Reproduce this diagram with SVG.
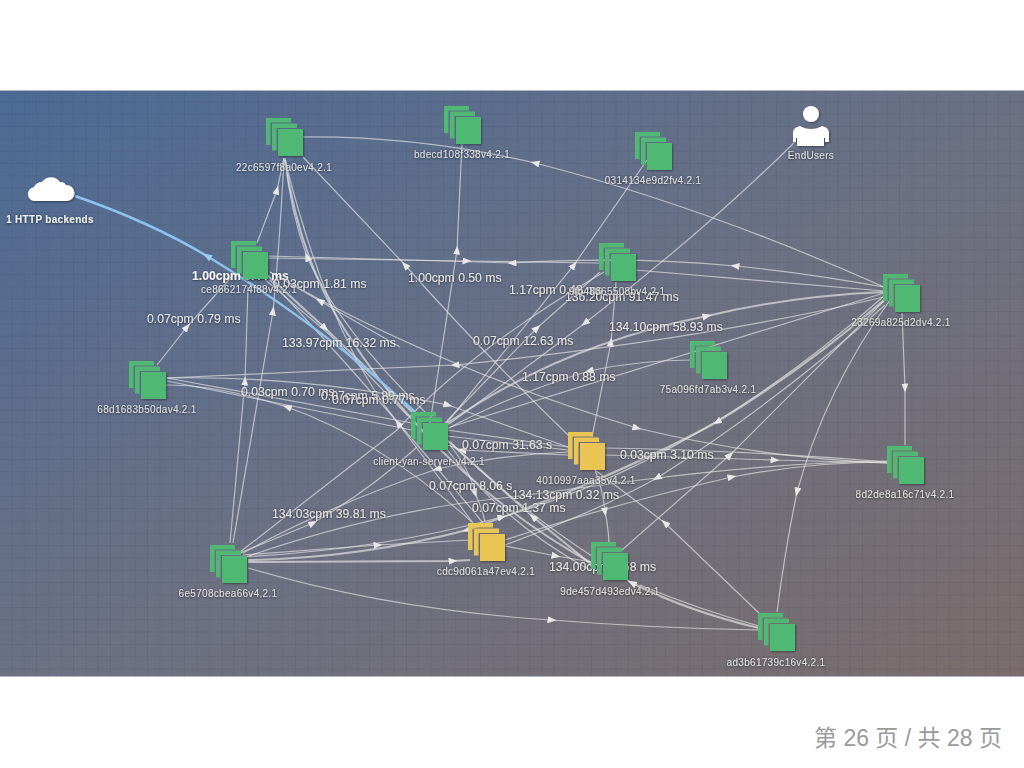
<svg xmlns="http://www.w3.org/2000/svg" width="1024" height="768" viewBox="0 0 1024 768">
<style>
.e{fill:none;stroke:#e4e4e4;stroke-opacity:.68;stroke-width:1.2;marker-mid:url(#a)}
.p{fill:none;stroke:#e4e4e4;stroke-opacity:.68;stroke-width:1.2}
.t{stroke-width:2}
.b{fill:none;stroke:#8cc4ee;stroke-width:2.4;marker-mid:url(#ab)}
.l{font:12.2px "Liberation Sans",Arial,sans-serif;fill:#e4e4e4;filter:url(#ts)}
.lb{font:bold 12.2px "Liberation Sans",Arial,sans-serif;fill:#f4f4f4;filter:url(#ts)}
.n{font:10px "Liberation Sans",Arial,sans-serif;fill:#dedede;letter-spacing:.3px;text-anchor:middle;filter:url(#ts)}
.nb{font:bold 10px "Liberation Sans",Arial,sans-serif;fill:#eee;letter-spacing:.3px;text-anchor:middle;filter:url(#ts)}
.g{fill:#50b873}
.y{fill:#eac552}
.w{fill:#fff;filter:url(#ns)}
</style>
<defs>
<linearGradient id="bg" x1="0" y1="0" x2="1" y2="1"><stop offset="0" stop-color="#4c6a95"/><stop offset=".5" stop-color="#6b7184"/><stop offset="1" stop-color="#7b6d6c"/></linearGradient>
<pattern id="grid" width="12.33" height="12.33" patternUnits="userSpaceOnUse" y="90"><path d="M12.33 0V12.33H0" fill="none" stroke="#2c3444" stroke-opacity=".2" stroke-width="1"/></pattern>
<marker id="a" markerUnits="userSpaceOnUse" markerWidth="10" markerHeight="8" refX="4.500" refY="3.500" orient="auto"><path d="M0 0L9 3.500L0 7Z" fill="#e8e8e8"/></marker>
<marker id="ab" markerUnits="userSpaceOnUse" markerWidth="10" markerHeight="8" refX="4.500" refY="3.500" orient="auto"><path d="M0 0L9 3.500L0 7Z" fill="#9ccdf2"/></marker>
<filter id="ns" x="-20%" y="-20%" width="150%" height="150%"><feDropShadow dx="1" dy="1" stdDeviation="1" flood-color="#000" flood-opacity=".4"/></filter>
<filter id="ts" x="-5%" y="-30%" width="110%" height="170%"><feDropShadow dx="0" dy="0.5" stdDeviation="0.8" flood-color="#000" flood-opacity=".7"/></filter>
<filter id="soft" filterUnits="userSpaceOnUse" x="0" y="0" width="1024" height="768"><feGaussianBlur stdDeviation=".35"/></filter>
<g id="stack">
<path d="M-12 -11H13V-6.500H-7.500V16H-12Z"/>
<path d="M-6 -5.500H19V-1H-1.500V21.500H-6Z"/>
<rect width="25" height="27" filter="url(#ns)"/>
</g>
</defs>
<rect width="1024" height="768" fill="#fff"/>
<rect y="90" width="1024" height="586" fill="url(#bg)"/>
<rect y="90" width="1024" height="586" fill="url(#grid)"/>
<path d="M0 90.500H1024M0 676.500H1024" stroke="#b4b8c0" stroke-width="1" fill="none"/>
<g id="connectors" filter="url(#soft)">
<path class="e" d="M884,287Q700,205 535,163Q420,136 303,137"/>
<path class="e" d="M257,243L277,190L284,158"/>
<path class="e" d="M157,365L187,327L233,275"/>
<path class="e" d="M230,543L245,381L248,287"/>
<path class="e" d="M233,543L273,311Q280,240 284,158"/>
<path class="e" d="M425,412Q340,330 307,257Q290,210 285,158"/>
<path class="p t" d="M285,160Q300,260 345,330Q440,480 595,565"/>
<path class="e" d="M569,436Q480,350 405,265L303,157"/>
<path class="e t" d="M267,275L325,328L412,412"/>
<path class="p" d="M262,277L330,335L408,416"/>
<path class="e" d="M884,287Q800,272 735,266Q630,256 512,263Q480,262 268,256"/>
<path class="e" d="M268,258L467,261L600,263"/>
<path class="p" d="M635,270L884,291"/>
<path class="e" d="M445,425L574,265L647,160"/>
<path class="e" d="M795,142Q700,235 585,323Q510,380 445,427"/>
<path class="e" d="M430,423Q445,330 457,250L462,143"/>
<path class="e" d="M445,423L537,328L600,272"/>
<path class="p" d="M240,552L397,430Q470,350 604,272"/>
<path class="e" d="M592,437L611,342L616,282"/>
<path class="e t" d="M445,425Q560,345 707,316Q790,296 884,292"/>
<path class="e" d="M884,297Q700,340 455,365L167,378"/>
<path class="e" d="M692,360Q640,360 589,371Q510,395 445,430"/>
<path class="p" d="M167,378L412,423"/>
<path class="p" d="M167,381L412,430"/>
<path class="e" d="M472,522Q380,440 287,407Q220,385 166,385"/>
<path class="e" d="M167,378Q300,375 448,405L568,447"/>
<path class="e" d="M270,272Q430,365 637,428Q760,458 888,463"/>
<path class="e" d="M400,347L320,301L270,272"/>
<path class="e" d="M605,455L775,460L888,463"/>
<path class="p" d="M888,462Q740,450 605,448"/>
<path class="e t" d="M884,300Q810,365 717,422Q610,480 467,530Q360,558 248,560"/>
<path class="e" d="M885,305Q780,400 657,478Q600,510 505,545"/>
<path class="e" d="M505,540Q610,505 732,477Q810,462 888,462"/>
<path class="e" d="M243,555L378,545L470,540"/>
<path class="e t" d="M248,562L453,561L470,560"/>
<path class="e" d="M505,546L556,556L592,562"/>
<path class="e" d="M248,568Q390,610 552,620Q650,628 759,630"/>
<path class="e" d="M240,553L313,523Q370,490 417,447"/>
<path class="e" d="M568,452Q500,455 437,469Q330,505 243,553"/>
<path class="p" d="M243,558Q380,510 512,497Q600,485 657,478Q790,462 888,461"/>
<path class="e" d="M450,445Q470,470 475,493Q482,508 485,522"/>
<path class="e t" d="M592,565L533,517L447,440"/>
<path class="p" d="M450,442Q520,510 595,558"/>
<path class="p" d="M445,447Q500,520 590,570"/>
<path class="e t" d="M759,628Q690,612 632,583L627,580"/>
<path class="p" d="M759,626Q700,610 640,585"/>
<path class="e" d="M759,613L665,523L595,470"/>
<path class="e" d="M890,300Q825,390 797,492Q785,550 777,612"/>
<path class="e" d="M902,313L905,388L905,445"/>
<path class="e" d="M622,550L730,455L885,300"/>
<path class="e" d="M595,470Q603,490 605,512Q608,525 609,542"/>
<path class="e" d="M473,523L398,423Q330,340 285,160"/>
<path class="p" d="M483,523Q390,410 270,280"/>
<path class="p" d="M447,430L568,447"/>
<path class="p" d="M447,436L568,450"/>
<path class="e" d="M568,455L462,450L447,445"/>
<path class="e" d="M240,557Q380,550 502,517Q700,460 884,296"/>
<path class="p" d="M447,428L884,293"/>
<path class="b" d="M415,412Q325,328 207,256Q150,222 75,196"/>
</g>
<g id="edge-labels">
<text class="lb" x="192" y="280">1.00cpm 0.44 ms</text>
<text class="l" x="408" y="282">1.00cpm 0.50 ms</text>
<text class="l" x="273" y="288">0.03cpm 1.81 ms</text>
<text class="l" x="147" y="323">0.07cpm 0.79 ms</text>
<text class="l" x="282" y="347">133.97cpm 16.32 ms</text>
<text class="l" x="473" y="345">0.07cpm 12.63 ms</text>
<text class="l" x="509" y="294">1.17cpm 0.48 ms</text>
<text class="l" x="565" y="301">136.20cpm 91.47 ms</text>
<text class="l" x="609" y="331">134.10cpm 58.93 ms</text>
<text class="l" x="522" y="381">1.17cpm 0.88 ms</text>
<text class="l" x="241" y="396">0.03cpm 0.70 ms</text>
<text class="l" x="321" y="400">0.07cpm 5.89 ms</text>
<text class="l" x="332" y="404">0.07cpm 0.77 ms</text>
<text class="l" x="462" y="449">0.07cpm 31.63 s</text>
<text class="l" x="620" y="459">0.03cpm 3.10 ms</text>
<text class="l" x="429" y="490">0.07cpm 8.06 s</text>
<text class="l" x="512" y="499">134.13cpm 0.32 ms</text>
<text class="l" x="472" y="512">0.07cpm 1.37 ms</text>
<text class="l" x="272" y="518">134.03cpm 39.81 ms</text>
<text class="l" x="549" y="571">134.00cpm 0.58 ms</text>
</g>
<g id="n-cloud"><path class="w" d="M36 201a7 7 0 0 1-2-14a9 9 0 0 1 8-5a11 11 0 0 1 18 0a6 6 0 0 1 6 3a8 8 0 0 1 1 16Z"/><text class="nb" x="50" y="223">1 HTTP backends</text></g>
<g id="n-endusers"><circle class="w" cx="811" cy="114" r="8"/><path class="w" d="M793 142V133c0-4 3-6 7-7c3 2 7 3 11 3s8-1 11-3c4 1 7 3 7 7v9h-4v-4h-1v8h-27v-8h-1v4Z"/><text class="n" x="811" y="159">EndUsers</text></g>
<g id="n-22c6" class="g"><use href="#stack" x="278" y="129"/><text class="n" x="284" y="171">22c6597f8a0ev4.2.1</text></g>
<g id="n-bdec" class="g"><use href="#stack" x="456" y="117"/><text class="n" x="462" y="158">bdecd108f338v4.2.1</text></g>
<g id="n-0314" class="g"><use href="#stack" x="647" y="143"/><text class="n" x="653" y="184">0314134e9d2fv4.2.1</text></g>
<g id="n-ce86" class="g"><use href="#stack" x="243" y="252"/><text class="n" x="249" y="293">ce8662174f88v4.2.1</text></g>
<g id="n-fb88" class="g"><use href="#stack" x="611" y="254"/><text class="n" x="617" y="295">9fb48865508bv4.2.1</text></g>
<g id="n-2326" class="g"><use href="#stack" x="895" y="285"/><text class="n" x="901" y="326">23269a825d2dv4.2.1</text></g>
<g id="n-75a0" class="g"><use href="#stack" x="702" y="352"/><text class="n" x="708" y="393">75a096fd7ab3v4.2.1</text></g>
<g id="n-68d1" class="g"><use href="#stack" x="141" y="372"/><text class="n" x="147" y="413">68d1683b50dav4.2.1</text></g>
<g id="n-client" class="g"><use href="#stack" x="423" y="423"/><text class="n" x="429" y="465">client-yan-server-v4.2.1</text></g>
<g id="n-4010" class="y"><use href="#stack" x="580" y="443"/><text class="n" x="586" y="484">4010997aaa35v4.2.1</text></g>
<g id="n-8d2d" class="g"><use href="#stack" x="899" y="457"/><text class="n" x="905" y="498">8d2de8a16c71v4.2.1</text></g>
<g id="n-cdc9" class="y"><use href="#stack" x="480" y="534"/><text class="n" x="486" y="575">cdc9d061a47ev4.2.1</text></g>
<g id="n-9de4" class="g"><use href="#stack" x="603" y="553"/><text class="n" x="610" y="595">9de457d493edv4.2.1</text></g>
<g id="n-6e57" class="g"><use href="#stack" x="222" y="556"/><text class="n" x="228" y="597">6e5708cbea66v4.2.1</text></g>
<g id="n-ad3b" class="g"><use href="#stack" x="770" y="624"/><text class="n" x="776" y="666">ad3b61739c16v4.2.1</text></g>
<text x="814" y="746" font-family="'Liberation Sans','Noto Sans CJK SC',sans-serif" font-size="23" fill="#9a9a9a">第 26 页 / 共 28 页</text>
</svg>
